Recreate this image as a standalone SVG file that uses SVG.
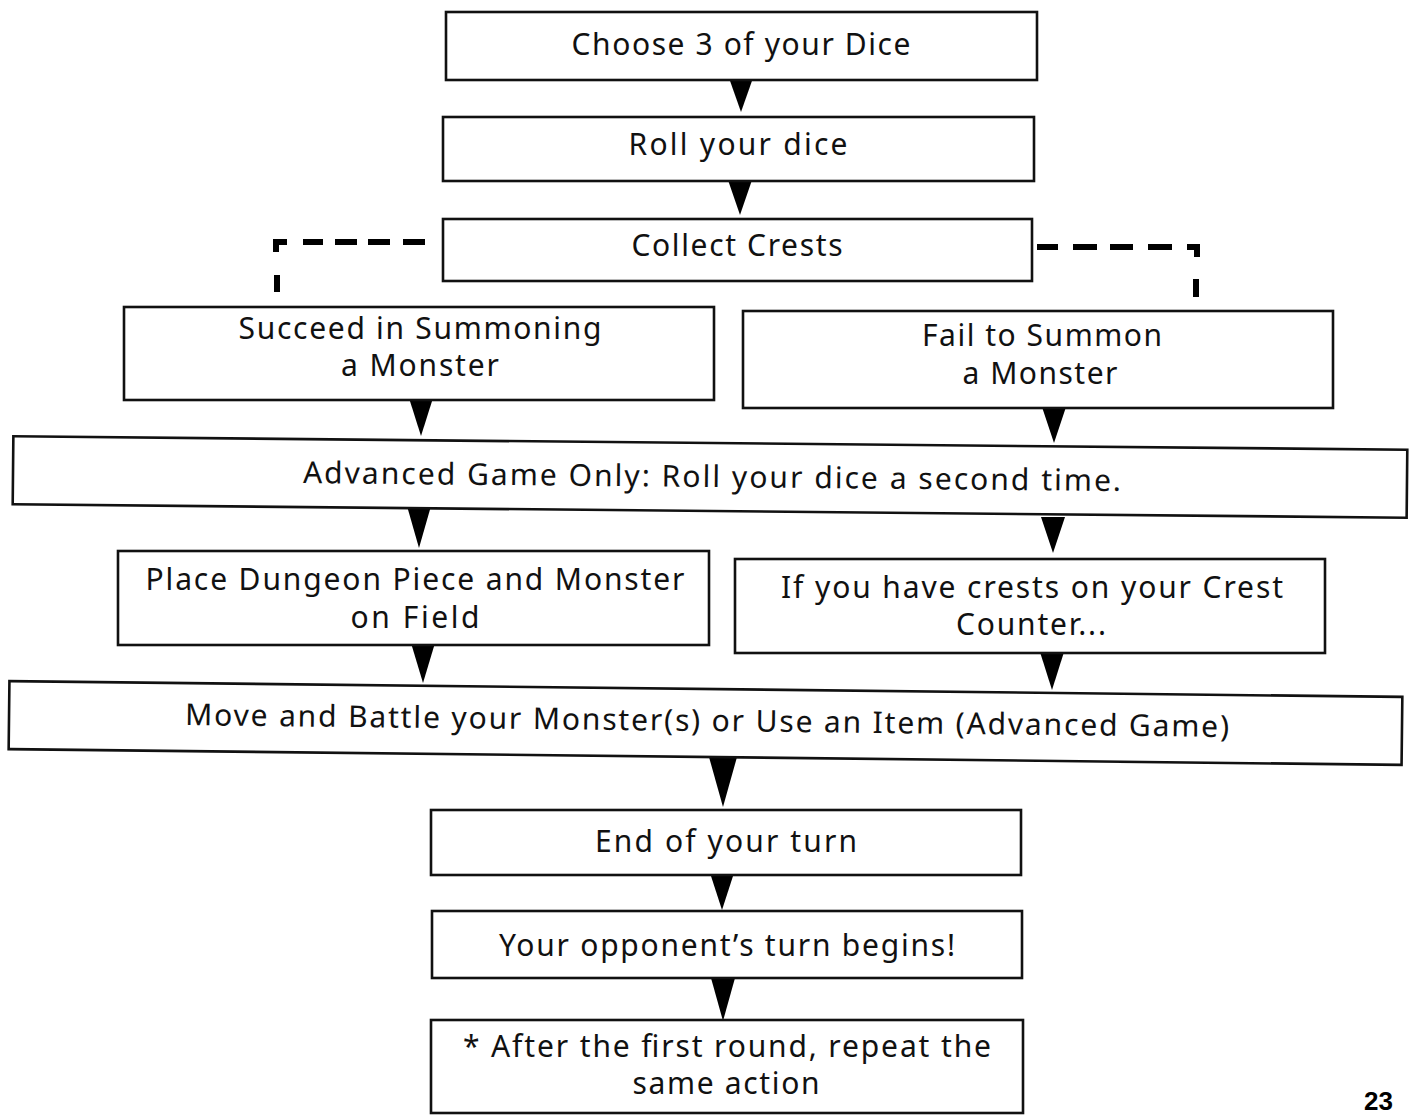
<svg xmlns="http://www.w3.org/2000/svg" width="1413" height="1120" viewBox="0 0 1413 1120">
<style>
.box{fill:#fff;stroke:#111;stroke-width:2.6}
.t{font-family:"Noto Sans","Open Sans","DejaVu Sans",sans-serif;font-size:30px;fill:#111;text-anchor:middle}
.arrow{fill:#000}
.dash{fill:none;stroke:#000;stroke-width:6}
.pg{font-family:"Liberation Sans",Arial,sans-serif;font-weight:bold;font-size:26px;fill:#000}
</style>
<rect width="1413" height="1120" fill="#fff"/>
<g id="connectors">
<polygon class="arrow" points="729,78 753,78 741,112"/>
<polygon class="arrow" points="728,180 752,180 740,215"/>
<polygon class="arrow" points="409,398 433,398 421,436"/>
<polygon class="arrow" points="1042,407 1066,407 1054,443"/>
<polygon class="arrow" points="407,506 431,506 419,548"/>
<polygon class="arrow" points="1041,517 1065,517 1053,553"/>
<polygon class="arrow" points="411,643 435,643 423,683"/>
<polygon class="arrow" points="1040,652 1064,652 1052,690"/>
<polygon class="arrow" points="709,757 737,757 723,807"/>
<polygon class="arrow" points="710,873 734,873 722,910"/>
<polygon class="arrow" points="711,978 735,978 723,1021"/>
<path class="dash" d="M425,242H403M390,242H368M357,242H335M323,242H303M287,242H276V252M277,275V292"/>
<path class="dash" d="M1037,247H1058M1073,247H1097M1110,247H1133M1148,247H1172M1187,247H1197V257M1196,279V297"/>
</g>
<g id="n1"><rect class="box" x="446" y="12" width="591" height="68"/><text class="t" x="741" y="55" textLength="339" lengthAdjust="spacing">Choose 3 of your Dice</text></g>
<g id="n2"><rect class="box" x="443" y="117" width="591" height="64"/><text class="t" x="738" y="155" textLength="219" lengthAdjust="spacing">Roll your dice</text></g>
<g id="n3"><rect class="box" x="443" y="219" width="589" height="62"/><text class="t" x="737" y="256" textLength="211" lengthAdjust="spacing">Collect Crests</text></g>
<g id="n4"><rect class="box" x="124" y="307" width="590" height="93"/><text class="t" x="420" y="339" textLength="363" lengthAdjust="spacing">Succeed in Summoning</text><text class="t" x="420" y="376" textLength="158" lengthAdjust="spacing">a Monster</text></g>
<g id="n5"><rect class="box" x="743" y="311" width="590" height="97"/><text class="t" x="1042" y="346" textLength="240" lengthAdjust="spacing">Fail to Summon</text><text class="t" x="1040" y="384" textLength="155" lengthAdjust="spacing">a Monster</text></g>
<g id="n6" transform="rotate(0.55 710 477)"><rect class="box" x="13" y="443" width="1394" height="68"/><text class="t" x="712" y="487" textLength="818" lengthAdjust="spacing">Advanced Game Only: Roll your dice a second time.</text></g>
<g id="n7"><rect class="box" x="118" y="551" width="591" height="94"/><text class="t" x="415" y="590" textLength="539" lengthAdjust="spacing">Place Dungeon Piece and Monster</text><text class="t" x="415" y="628" textLength="129" lengthAdjust="spacing">on Field</text></g>
<g id="n8"><rect class="box" x="735" y="559" width="590" height="94"/><text class="t" x="1032" y="598" textLength="502" lengthAdjust="spacing">If you have crests on your Crest</text><text class="t" x="1031" y="635" textLength="150" lengthAdjust="spacing">Counter...</text></g>
<g id="n9" transform="rotate(0.65 705 723)"><rect class="box" x="9" y="689" width="1393" height="68"/><text class="t" x="707" y="731" textLength="1044" lengthAdjust="spacing">Move and Battle your Monster(s) or Use an Item (Advanced Game)</text></g>
<g id="n10"><rect class="box" x="431" y="810" width="590" height="65"/><text class="t" x="726" y="852" textLength="262" lengthAdjust="spacing">End of your turn</text></g>
<g id="n11"><rect class="box" x="432" y="911" width="590" height="67"/><text class="t" x="727" y="956" textLength="456" lengthAdjust="spacing">Your opponent’s turn begins!</text></g>
<g id="n12"><rect class="box" x="431" y="1020" width="592" height="93"/><text class="t" x="727" y="1057" textLength="528" lengthAdjust="spacing">* After the first round, repeat the</text><text class="t" x="726" y="1094" textLength="187" lengthAdjust="spacing">same action</text></g>
<text class="pg" x="1364" y="1110">23</text>
</svg>
